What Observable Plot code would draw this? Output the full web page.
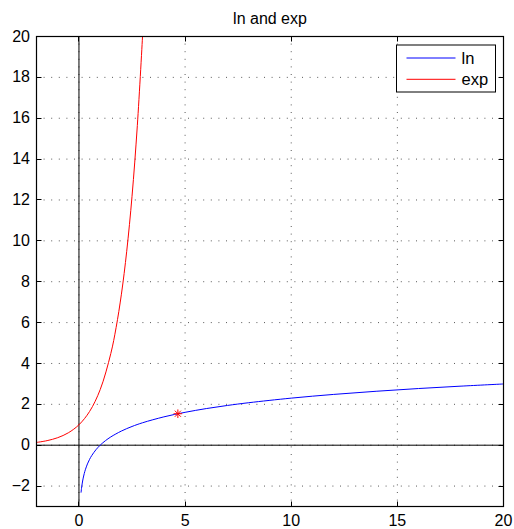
<!DOCTYPE html>
<html><head><meta charset="utf-8">
<script src="https://cdn.jsdelivr.net/npm/d3@7"></script>
<script src="https://cdn.jsdelivr.net/npm/@observablehq/plot@0.6"></script>
<style>body{margin:0;background:#fff} svg{display:block}</style>
</head><body><div id="chart"></div>
<script>
const title = "ln and exp";
const xTicks = [0, 5, 10, 15, 20];
const yTicks = [-2, 0, 2, 4, 6, 8, 10, 12, 14, 16, 18, 20];
const xDomain = [-2, 20];
const yDomain = [-3, 20];

// ln curve, values
const lnX = [0.1, 0.12, 0.15, 0.2, 0.25, 0.3, 0.4, 0.5, 0.6, 0.8, 1, 1.25, 1.5, 2, 2.5, 3, 4, 5, 6, 7, 8, 10, 12, 14, 16, 18, 20];
const lnY = [-2.303, -2.120, -1.897, -1.609, -1.386, -1.204, -0.916, -0.693, -0.511, -0.223, 0, 0.223, 0.405, 0.693, 0.916, 1.099, 1.386, 1.609, 1.792, 1.946, 2.079, 2.303, 2.485, 2.639, 2.773, 2.890, 2.996];

// exp curve
const expX = [-2, -1.5, -1, -0.5, 0, 0.5, 1, 1.5, 1.75, 2, 2.25, 2.5, 2.75, 3];
const expY = [0.135, 0.223, 0.368, 0.607, 1, 1.649, 2.718, 4.482, 5.755, 7.389, 9.488, 12.18, 15.64, 20.09];

// red asterisk marker
const markerX = [4.66];
const markerY = [1.54];

// zero reference lines
const zeroX = [0];
const zeroY = [0];

const legendLabels = ["ln", "exp"];
const legendColors = ["#0000ff", "#ff0000"];

const lnData = lnX.map((x, i) => ({x, y: lnY[i]}));
const expData = expX.map((x, i) => ({x, y: expY[i]}));
const markerData = markerX.map((x, i) => ({x, y: markerY[i]}));

const asterisk = {
  draw(ctx, size) {
    const r = Math.sqrt(size / Math.PI);
    const d = r * Math.SQRT1_2;
    ctx.moveTo(-r, 0); ctx.lineTo(r, 0);
    ctx.moveTo(0, -r); ctx.lineTo(0, r);
    ctx.moveTo(-d, -d); ctx.lineTo(d, d);
    ctx.moveTo(-d, d); ctx.lineTo(d, -d);
  }
};

function innerTicks(index, scales, values, dims) {
  const {width, height, marginLeft, marginRight, marginTop, marginBottom} = dims;
  const L = marginLeft, R = width - marginRight, T = marginTop, B = height - marginBottom;
  const g = d3.create("svg:g").attr("stroke", "#000").attr("stroke-width", 1).attr("transform", "translate(0.5,0.5)");
  for (const t of xTicks) {
    const px = Math.round(scales.x(t));
    g.append("line").attr("x1", px).attr("x2", px).attr("y1", B).attr("y2", B - 5);
    g.append("line").attr("x1", px).attr("x2", px).attr("y1", T).attr("y2", T + 5);
  }
  for (const t of yTicks) {
    const py = Math.round(scales.y(t));
    g.append("line").attr("y1", py).attr("y2", py).attr("x1", L).attr("x2", L + 5);
    g.append("line").attr("y1", py).attr("y2", py).attr("x1", R).attr("x2", R - 5);
  }
  return g.node();
}

function legend(index, scales, values, dims) {
  const {width, marginRight, marginTop} = dims;
  const R = width - marginRight, T = marginTop;
  const bx = R - 106.5, by = T + 9, bw = 99, bh = 47;
  const g = d3.create("svg:g");
  g.append("rect").attr("x", bx).attr("y", by).attr("width", bw).attr("height", bh)
    .attr("fill", "#fff").attr("stroke", "#000").attr("stroke-width", 1);
  legendLabels.forEach((lab, i) => {
    const ly = by + 13 + i * 21.3;
    g.append("line").attr("x1", bx + 10).attr("x2", bx + 59).attr("y1", ly).attr("y2", ly)
      .attr("stroke", legendColors[i]).attr("stroke-width", 1);
    g.append("text").attr("x", bx + 65).attr("y", ly + 5.5).attr("fill", "#000")
      .attr("text-anchor", "start").attr("font-size", 16.5).text(lab);
  });
  return g.node();
}

const plot = Plot.plot({
  width: 514,
  height: 529,
  marginLeft: 36,
  marginRight: 11,
  marginTop: 36,
  marginBottom: 23,
  style: {fontFamily: "'Liberation Sans', Arial, sans-serif", fontSize: "16px", background: "#fff", color: "#000"},
  x: {domain: xDomain, label: null},
  y: {domain: yDomain, label: null},
  marks: [
    Plot.gridX(xTicks, {stroke: "#000", strokeOpacity: 0.65, strokeDasharray: "1,6.6"}),
    Plot.gridY(yTicks, {stroke: "#000", strokeOpacity: 0.65, strokeDasharray: "1,6.6"}),
    Plot.ruleX(zeroX, {stroke: "#000", strokeWidth: 1}),
    Plot.ruleY(zeroY, {stroke: "#000", strokeWidth: 1}),
    innerTicks,
    Plot.line(lnData, {x: "x", y: "y", stroke: "#0000ff", strokeWidth: 1, curve: "catmull-rom", clip: true}),
    Plot.line(expData, {x: "x", y: "y", stroke: "#ff0000", strokeWidth: 1, curve: "catmull-rom", clip: true}),
    Plot.dot(markerData, {x: "x", y: "y", symbol: asterisk, r: 4.3, stroke: "#ff0000", strokeWidth: 1}),
    Plot.frame({stroke: "#000", strokeWidth: 1.2}),
    Plot.axisX(xTicks, {anchor: "bottom", tickSize: 0, tickPadding: 8.5, fontSize: 16, label: null}),
    Plot.axisY(yTicks, {anchor: "left", tickSize: 0, tickPadding: 6.5, fontSize: 16, label: null}),
    Plot.text([title], {text: d => d, frameAnchor: "top", lineAnchor: "bottom", dy: -12.7, fontSize: 16, fill: "#000"}),
    legend
  ]
});
document.getElementById("chart").append(plot);
</script>
</body></html>
